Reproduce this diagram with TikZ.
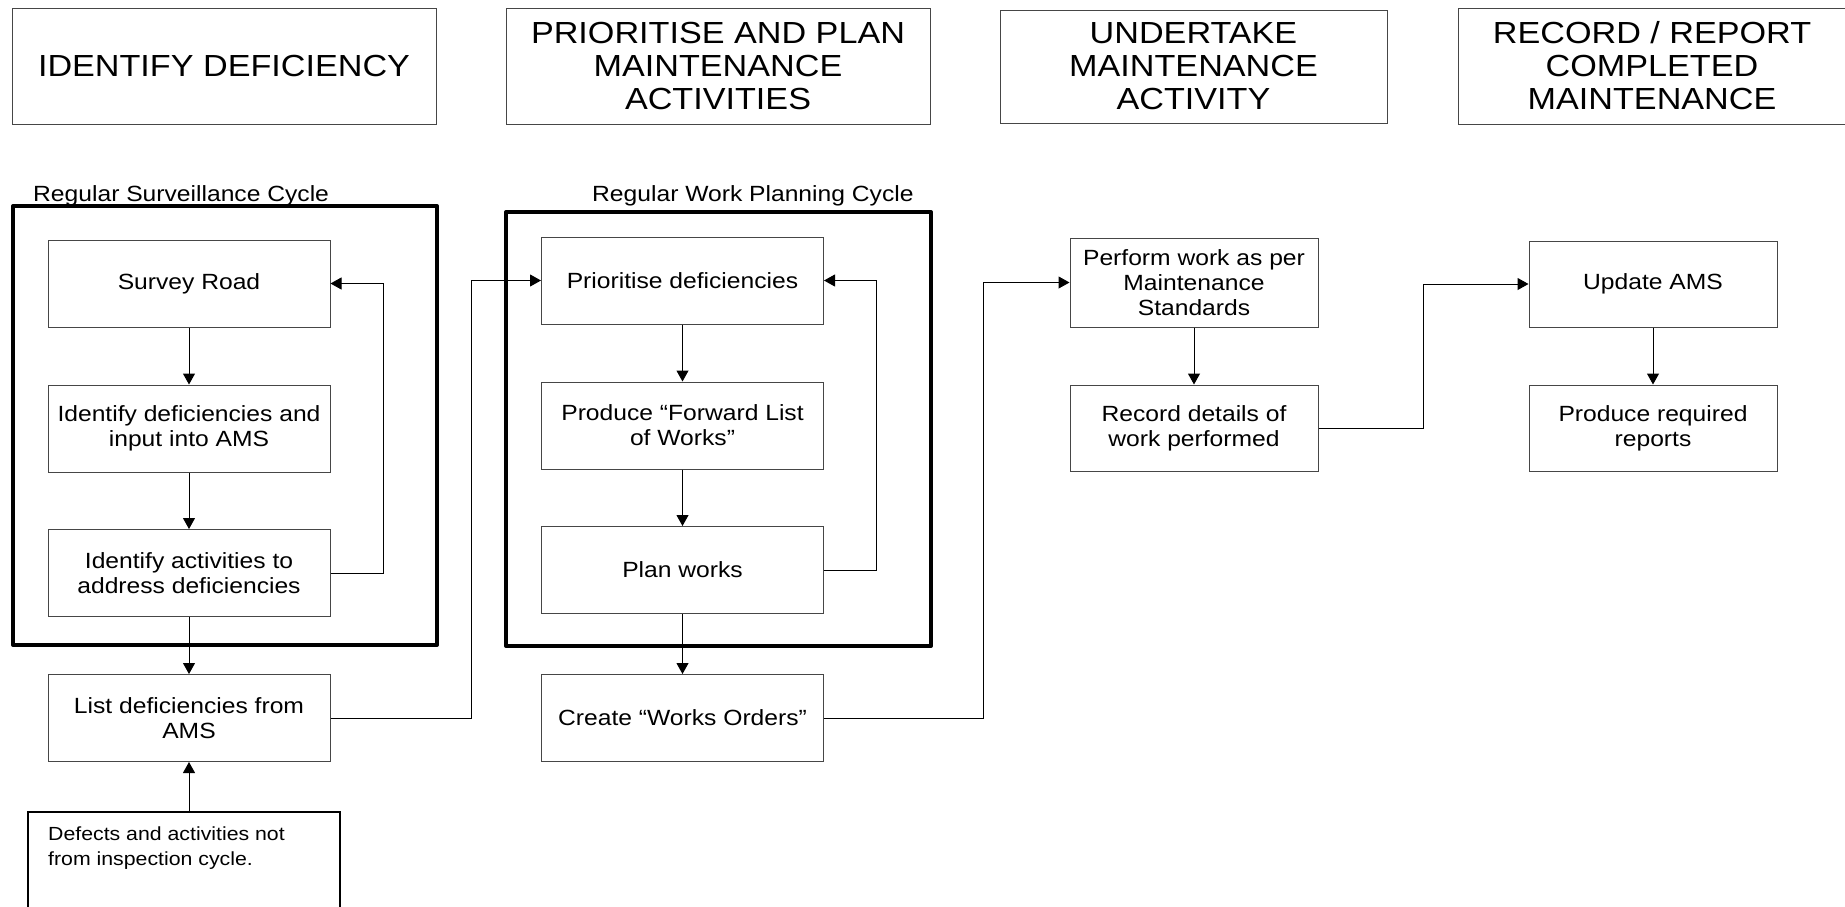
\documentclass[tikz,border=0pt]{standalone}
\usepackage{fontspec}
\setmainfont{Liberation Sans}[FakeStretch=1.12]
\usetikzlibrary{arrows.meta,calc}
\definecolor{boxgray}{RGB}{70,70,70}
\tikzset{
  hdr/.style={draw=boxgray, line width=1pt, inner sep=0pt, align=center,
    font=\fontsize{30.5}{33}\selectfont},
  pbox/.style={draw=boxgray, line width=1pt, inner sep=0pt, align=center,
    minimum width=282pt, minimum height=87pt, font=\fontsize{22}{25}\selectfont},
  qbox/.style={pbox, minimum width=248pt},
  thickbox/.style={draw=black, line width=4pt, line join=round},
  lbl/.style={anchor=base west, inner sep=0pt, font=\fontsize{22}{25}\selectfont},
  arr/.style={draw=black, line width=1pt, -{Triangle[length=11pt,width=12pt]}},
  conn/.style={draw=black, line width=1pt}
}
\begin{document}
\begin{tikzpicture}[x=1pt,y=-1pt]
\clip (0,0) rectangle (1845,906);
\fill[white] (0,0) rectangle (1845,906);

% header boxes
\node[hdr, minimum width=424pt, minimum height=116pt] (h1) at (224,66) {IDENTIFY DEFICIENCY};
\node[hdr, minimum width=424pt, minimum height=116pt] (h2) at (718,66) {PRIORITISE AND PLAN\\MAINTENANCE\\ACTIVITIES};
\node[hdr, minimum width=387pt, minimum height=113pt] (h3) at (1193.5,66.5) {UNDERTAKE\\MAINTENANCE\\ACTIVITY};
\node[hdr, minimum width=388pt, minimum height=116pt] (h4) at (1652,66) {RECORD / REPORT\\COMPLETED\\MAINTENANCE};

% cycle labels and thick frames
\node[lbl] (lab1) at (33,201) {Regular Surveillance Cycle};
\node[lbl] (lab2) at (592,201) {Regular Work Planning Cycle};
\draw[thickbox] (13,206) rectangle (437,645);
\draw[thickbox] (506,212) rectangle (931,646);

% column 1
\node[pbox] (survey)   at (189,283.5) {Survey Road};
\node[pbox] (identdef) at (189,428.5) {Identify deficiencies and\\input into AMS};
\node[pbox] (identact) at (189,573)   {Identify activities to\\address deficiencies};
\node[pbox] (list)     at (189,718)   {List deficiencies from\\AMS};
\draw[black, line width=1.5pt] (28,935) -- (28,812) -- (340,812) -- (340,935);
\coordinate (defectstop) at (189,812);
\node[anchor=north west, inner sep=0pt, align=left, font=\fontsize{19}{25}\selectfont] (defects) at (48,827)
  {Defects and activities not\\from inspection cycle.};

% column 2
\node[pbox] (prio)   at (682.5,280.5) {Prioritise deficiencies};
\node[pbox] (fwd)    at (682.5,425.5) {Produce “Forward List\\of Works”};
\node[pbox] (plan)   at (682.5,570)   {Plan works};
\node[pbox] (create) at (682.5,718)   {Create “Works Orders”};

% column 3
\node[qbox, minimum height=89pt] (perform) at (1194,282.5) {Perform work as per\\Maintenance\\Standards};
\node[qbox, minimum height=86pt] (record)  at (1194,428)   {Record details of\\work performed};

% column 4
\node[qbox, minimum height=86pt] (update)  at (1653,284) {Update AMS};
\node[qbox, minimum height=86pt] (reports) at (1653,428) {Produce required\\reports};

% routing coordinates
\coordinate (fb1) at (383,0);
\coordinate (fb2) at (876,0);
\coordinate (c1) at (471,0);
\coordinate (c2) at (983,0);
\coordinate (c3) at (1423,0);

% arrows column 1
\draw[arr] (survey) -- (identdef);
\draw[arr] (identdef) -- (identact);
\draw[arr] (identact) -- (list);
\draw[arr] (defectstop) -- (list.south);
\draw[arr] (identact.east) -- (identact.east -| fb1) -- (survey.east -| fb1) -- (survey.east);

% arrows column 2
\draw[arr] (list.east) -- (list.east -| c1) -- (prio.west -| c1) -- (prio.west);
\draw[arr] (prio) -- (fwd);
\draw[arr] (fwd) -- (plan);
\draw[arr] (plan) -- (create);
\draw[arr] (plan.east) -- (plan.east -| fb2) -- (prio.east -| fb2) -- (prio.east);

% arrows column 3/4
\draw[arr] (create.east) -- (create.east -| c2) -- (perform.west -| c2) -- (perform.west);
\draw[arr] (perform) -- (record);
\draw[arr] (record.east) -- (record.east -| c3) -- (update.west -| c3) -- (update.west);
\draw[arr] (update) -- (reports);
\end{tikzpicture}
\end{document}
